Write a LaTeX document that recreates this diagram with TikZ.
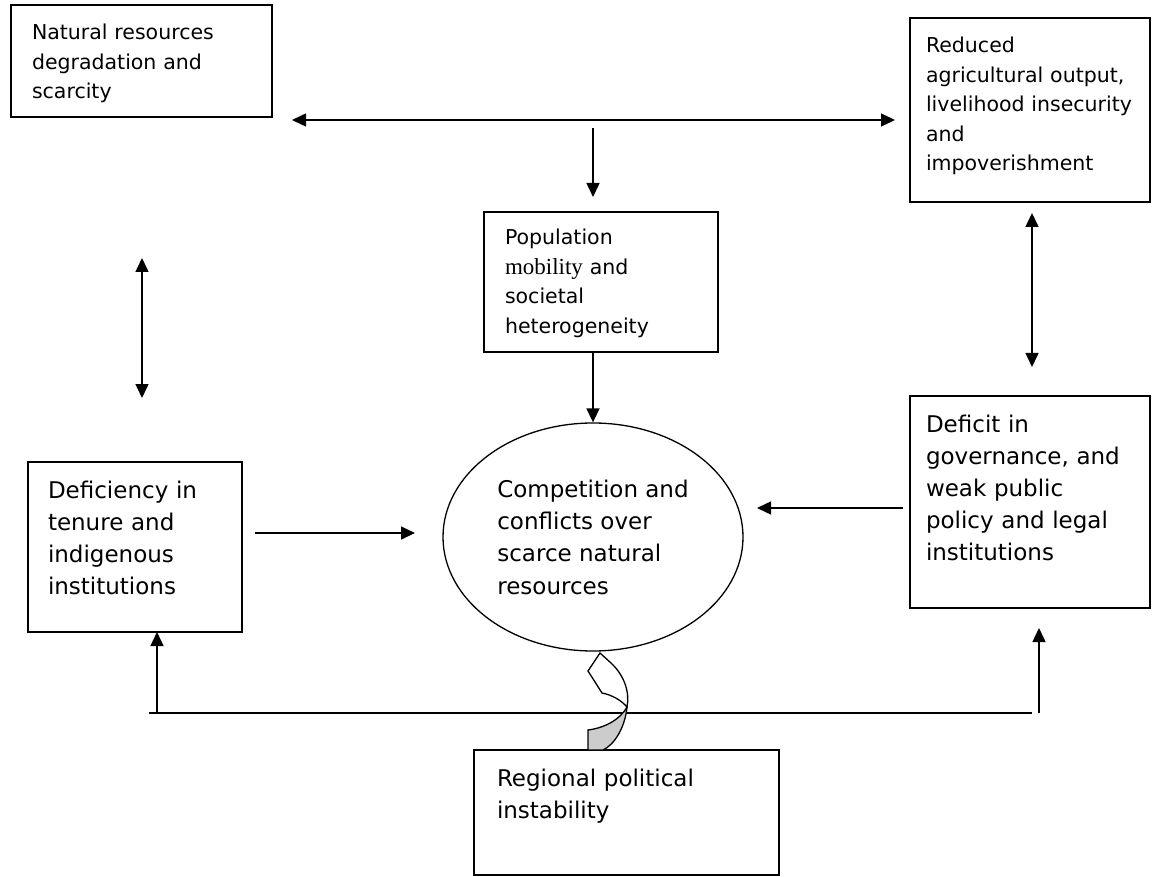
\documentclass[tikz,border=0pt]{standalone}
\usepackage{fontspec}
\setmainfont{DejaVu Sans}
\newfontfamily\serifword{Liberation Serif}
\usepackage{tikz}
\usetikzlibrary{arrows.meta,positioning,shapes.geometric}
\definecolor{twist}{gray}{0.80}
\begin{document}
\begin{tikzpicture}[x=1pt, y=-1pt,
  panel/.style={draw, line width=1.7pt, anchor=north west, align=left,
                inner ysep=0pt, outer sep=0pt},
  small/.style={font=\fontsize{20.5}{29.5}\selectfont},
  big/.style={font=\fontsize{23}{32}\selectfont},
  blob/.style={draw, ellipse, line width=1.3pt, minimum width=300pt,
               minimum height=228pt, inner sep=0pt, align=left,
               font=\fontsize{23}{32.3}\selectfont},
  link/.style={-{Triangle[length=14pt,width=13pt]}, line width=1.5pt},
  twoway/.style={{Triangle[length=14pt,width=13pt]}-{Triangle[length=14pt,width=13pt]},
                 line width=1.5pt}]
\useasboundingbox (0,0) rectangle (1157,877);
\node[panel, small, inner xsep=21pt, text width=219pt, text height=35pt, text depth=77pt]
  (natres) at (11,5) {Natural resources\\degradation and\\scarcity};
\node[panel, small, inner xsep=16pt, text width=208pt, text height=35pt, text depth=149pt]
  (reduced) at (910,18) {Reduced\\agricultural output,\\livelihood insecurity\\and\\impoverishment};
\node[panel, small, inner xsep=21pt, text width=192pt, text height=33pt, text depth=107pt]
  (pop) at (484,212) {Population\\{\serifword\fontsize{23}{29.5}\selectfont mobility} and\\societal\\heterogeneity};
\node[panel, big, inner xsep=20pt, text width=174pt, text height=36pt, text depth=134pt]
  (defic) at (28,462) {Deficiency in\\tenure and\\indigenous\\institutions};
\node[panel, big, inner xsep=16pt, text width=208pt, text height=36pt, text depth=176pt]
  (deficit) at (910,396) {Deficit in\\governance, and\\weak public\\policy and legal\\institutions};
\node[panel, big, inner xsep=23pt, text width=259pt, text height=36pt, text depth=89pt]
  (regional) at (474,750) {Regional political\\instability};
\node[blob] (comp) at (593,537) {Competition and\\conflicts over\\scarce natural\\resources};
\coordinate (topL) at (292,120);
\coordinate (topR) at (895,120);
\draw[twoway] (topL) -- (topR);
\coordinate (downA) at (593,128);
\coordinate (downB) at ([yshift=15pt]pop.north -| downA);
\draw[link] (downA) -- (downB);
\draw[link] (pop.south -| comp.north) -- (comp.north);
\coordinate (lvA) at (142,258);
\coordinate (lvB) at (142,398);
\draw[twoway] (lvA) -- (lvB);
\coordinate (rvA) at (1032,213);
\coordinate (rvB) at (1032,367);
\draw[twoway] (rvA) -- (rvB);
\coordinate (deficOut) at (255,533);
\coordinate (compInL) at (415,533);
\draw[link] (deficOut) -- (compInL);
\coordinate (deficitOut) at (903,508);
\coordinate (compInR) at (757,508);
\draw[link] (deficitOut) -- (compInR);
\coordinate (baseL) at (149,713);
\coordinate (baseR) at (1032,713);
\draw[line width=1.5pt] (baseL) -- (baseR);
\coordinate (upL) at (157,713);
\draw[link] (upL) -- (upL |- defic.south);
\coordinate (upR) at (1039,713);
\coordinate (upRtip) at (1039,628);
\draw[link] (upR) -- (upRtip);
\draw[line width=1.3pt, fill=twist] (588,750) -- (588,730)
  .. controls (604,728) and (620,720) .. (627,707)
  .. controls (625,728) and (614,745) .. (603,750) -- cycle;
\draw[line width=1.3pt, fill=white] (602,693) -- (588,671) -- (600,653) -- (611,663)
  .. controls (624,675) and (630,692) .. (627,707)
  .. controls (621,700) and (612,695) .. (602,693) -- cycle;
\end{tikzpicture}
\end{document}
